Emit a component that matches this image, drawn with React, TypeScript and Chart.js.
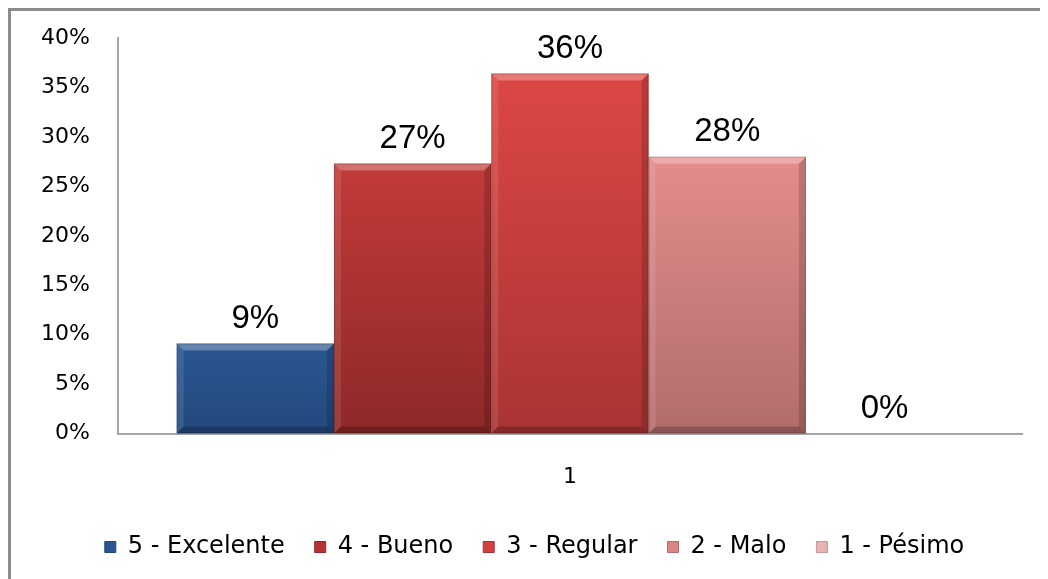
import React, { useEffect, useRef } from "react";
import { Chart, registerables } from "chart.js";

Chart.register(...registerables);

// ---- data ----
const categories: string[] = ["1"];
const seriesNames: string[] = ["5 - Excelente", "4 - Bueno", "3 - Regular", "2 - Malo", "1 - Pésimo"];
const seriesValues: number[] = [0.091, 0.273, 0.364, 0.28, 0];
const yTicks: number[] = [0, 0.05, 0.1, 0.15, 0.2, 0.25, 0.3, 0.35, 0.4];

// ---- styles ----
const topColors: string[] = ["#2a5692", "#c23b39", "#dc4744", "#e38d8c", "#e9b8b8"];
const bottomColors: string[] = ["#23497d", "#8e2828", "#a93434", "#b26c6c", "#c99595"];
const legendColors: string[] = ["#2b5590", "#b43434", "#d4403e", "#d98585", "#e5b3b3"];

const pct = (v: number) => Math.round(v * 100) + "%";

const makeFill = (i: number) => (ctx: any) => {
  const chart = ctx.chart;
  const ys = chart.scales && chart.scales.y;
  if (!ys || ctx.type !== "data") return topColors[i];
  const y0 = ys.getPixelForValue(0);
  const y1 = ys.getPixelForValue(ctx.raw);
  if (!isFinite(y0) || !isFinite(y1) || Math.abs(y0 - y1) < 1) return topColors[i];
  const g = chart.ctx.createLinearGradient(0, y1, 0, y0);
  g.addColorStop(0, topColors[i]);
  g.addColorStop(1, bottomColors[i]);
  return g;
};

const bevelPlugin = {
  id: "bevel",
  afterDatasetsDraw(chart: any) {
    const c = chart.ctx;
    chart.data.datasets.forEach((_: any, di: number) => {
      const meta = chart.getDatasetMeta(di);
      meta.data.forEach((bar: any) => {
        const l = bar.x - bar.width / 2;
        const r = bar.x + bar.width / 2;
        const t = Math.min(bar.y, bar.base);
        const b = Math.max(bar.y, bar.base);
        const h = b - t;
        if (h < 2) return;
        const s = Math.min(7, h / 2);
        const poly = (pts: number[][], fill: string) => {
          c.beginPath();
          c.moveTo(pts[0][0], pts[0][1]);
          for (let k = 1; k < pts.length; k++) c.lineTo(pts[k][0], pts[k][1]);
          c.closePath();
          c.fillStyle = fill;
          c.fill();
        };
        c.save();
        poly([[l, t], [r, t], [r - s, t + s], [l + s, t + s]], "rgba(255,255,255,0.28)");
        poly([[l, t], [l + s, t + s], [l + s, b - s], [l, b]], "rgba(255,255,255,0.10)");
        poly([[r, t], [r, b], [r - s, b - s], [r - s, t + s]], "rgba(0,0,0,0.16)");
        poly([[l, b], [r, b], [r - s, b - s], [l + s, b - s]], "rgba(0,0,0,0.22)");
        c.strokeStyle = "rgba(0,0,0,0.18)";
        c.lineWidth = 1;
        c.strokeRect(l + 0.5, t + 0.5, r - l - 1, h - 1);
        c.restore();
      });
    });
  },
};

const labelPlugin = {
  id: "valueLabels",
  afterDatasetsDraw(chart: any) {
    const c = chart.ctx;
    c.save();
    c.font = "33px 'Liberation Sans', Arial, sans-serif";
    c.fillStyle = "#000";
    c.textAlign = "center";
    c.textBaseline = "alphabetic";
    chart.data.datasets.forEach((ds: any, di: number) => {
      const meta = chart.getDatasetMeta(di);
      meta.data.forEach((bar: any, idx: number) => {
        c.fillText(pct(ds.data[idx]), bar.x, bar.y - 16);
      });
    });
    c.restore();
  },
};

// nudges the centred legend row slightly to the right, as in the original
const legendShiftPlugin = {
  id: "legendShift",
  afterLayout(chart: any) {
    const lg = chart.legend;
    if (lg) {
      lg.left += 5;
      lg.right += 5;
    }
  },
};

export default function App() {
  const ref = useRef<HTMLCanvasElement | null>(null);

  useEffect(() => {
    document.documentElement.style.overflow = "hidden";
    if (!ref.current) return;
    const chart = new Chart(ref.current, {
      type: "bar",
      data: {
        labels: categories,
        datasets: seriesNames.map((name, i) => ({
          label: name,
          data: [seriesValues[i]],
          backgroundColor: makeFill(i),
          borderWidth: 0,
          categoryPercentage: 0.87,
          barPercentage: 1,
        })),
      },
      options: {
        responsive: false,
        animation: false,
        layout: { padding: { left: 26, right: 31, top: 27, bottom: 10 } },
        plugins: {
          title: { display: false },
          tooltip: { enabled: false },
          legend: {
            position: "bottom",
            labels: {
              boxWidth: 11,
              boxHeight: 11,
              padding: 30,
              color: "#000",
              font: { family: "'DejaVu Sans', sans-serif", size: 24 },
              generateLabels: () =>
                seriesNames.map((n, i) => ({
                  text: n,
                  fillStyle: legendColors[i],
                  strokeStyle: bottomColors[i],
                  lineWidth: 1,
                  hidden: false,
                  datasetIndex: i,
                })),
            },
          },
        },
        scales: {
          x: {
            grid: { display: false, drawTicks: false },
            border: { display: true, color: "#a6a6a6", width: 2 },
            ticks: {
              color: "#000",
              padding: 30,
              font: { family: "'DejaVu Sans', sans-serif", size: 22 },
            },
            afterFit: (scale: any) => {
              scale.height -= 15;
            },
          },
          y: {
            min: 0,
            max: 0.4,
            grid: { display: false, drawTicks: true, tickLength: 24 },
            border: { display: true, color: "#a6a6a6", width: 2 },
            afterBuildTicks: (scale: any) => {
              scale.ticks = yTicks.map((v) => ({ value: v }));
            },
            ticks: {
              color: "#000",
              padding: 4,
              font: { family: "'DejaVu Sans', sans-serif", size: 22 },
              callback: (v: any) => pct(Number(v)),
            },
          },
        },
      },
      plugins: [bevelPlugin, labelPlugin, legendShiftPlugin],
    });
    return () => chart.destroy();
  }, []);

  return (
    <div
      style={{
        position: "relative",
        width: 1045,
        height: 571,
        borderLeft: "3px solid #8c8c8c",
        borderTop: "3px solid #8c8c8c",
        boxSizing: "border-box",
        overflow: "hidden",
        background: "#fff",
      }}
    >
      <canvas ref={ref} width={1042} height={568} style={{ display: "block" }} />
    </div>
  );
}
